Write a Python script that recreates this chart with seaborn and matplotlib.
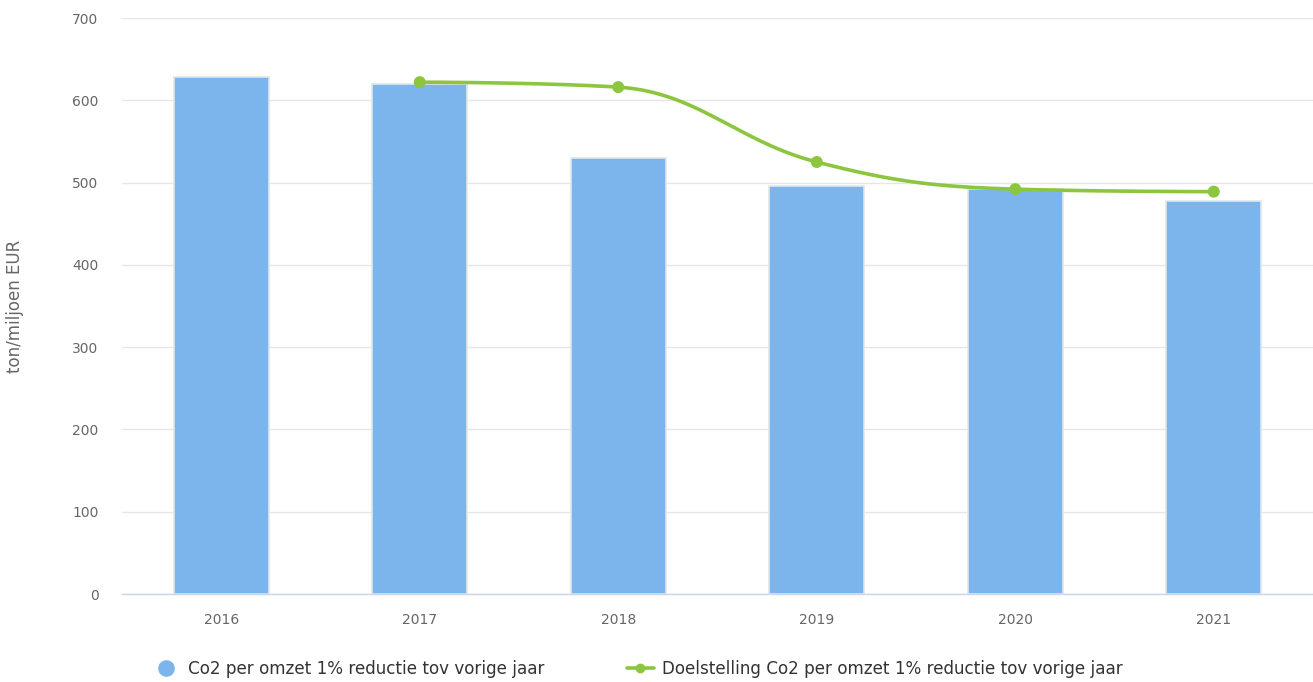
import numpy as np
import pandas as pd
import matplotlib
matplotlib.use("Agg")
import matplotlib.pyplot as plt
import seaborn as sns
from matplotlib.lines import Line2D

years = ["2016", "2017", "2018", "2019", "2020", "2021"]
co2_values = [628, 620, 530, 496, 492, 478]
target_years = ["2017", "2018", "2019", "2020", "2021"]
target_values = [622, 616, 525, 492, 489]

bar_label = "Co2 per omzet 1% reductie tov vorige jaar"
line_label = "Doelstelling Co2 per omzet 1% reductie tov vorige jaar"
y_label = "ton/miljoen EUR"
y_ticks = [0, 100, 200, 300, 400, 500, 600, 700]

BAR_COLOR = "#7cb5ec"
LINE_COLOR = "#8cc63e"
TEXT_COLOR = "#666666"

sns.set_theme(style="white")
plt.rcParams["font.family"] = ["DejaVu Sans"]

fig = plt.figure(figsize=(13.13, 6.82), dpi=100)
ax = fig.add_axes([122 / 1313, 88 / 682, 1 - 122 / 1313, (594 - 18) / 682])

df = pd.DataFrame({"year": years, "value": co2_values})
sns.barplot(data=df, x="year", y="value", color=BAR_COLOR, width=0.48,
            saturation=1, ax=ax, edgecolor="#e3e6ea", linewidth=1.2, zorder=2)


def spline_curve(x, y, smoothing=1.5, n=60):
    """Bezier spline through the points (Highcharts-style control points)."""
    x = np.asarray(x, float)
    y = np.asarray(y, float)
    k = len(x)
    lc = [(x[i], y[i]) for i in range(k)]
    rc = [(x[i], y[i]) for i in range(k)]
    den = smoothing + 1
    for i in range(1, k - 1):
        lx = (smoothing * x[i] + x[i - 1]) / den
        ly = (smoothing * y[i] + y[i - 1]) / den
        rx = (smoothing * x[i] + x[i + 1]) / den
        ry = (smoothing * y[i] + y[i + 1]) / den
        corr = (ry - ly) * (rx - x[i]) / (rx - lx) + y[i] - ry
        ly += corr
        ry += corr
        if ly > y[i - 1] and ly > y[i]:
            ly = max(y[i - 1], y[i]); ry = 2 * y[i] - ly
        elif ly < y[i - 1] and ly < y[i]:
            ly = min(y[i - 1], y[i]); ry = 2 * y[i] - ly
        if ry > y[i + 1] and ry > y[i]:
            ry = max(y[i + 1], y[i]); ly = 2 * y[i] - ry
        elif ry < y[i + 1] and ry < y[i]:
            ry = min(y[i + 1], y[i]); ly = 2 * y[i] - ry
        lc[i] = (lx, ly)
        rc[i] = (rx, ry)
    xs, ys = [], []
    t = np.linspace(0, 1, n)
    for i in range(k - 1):
        p0 = np.array([x[i], y[i]])
        p1 = np.array(rc[i])
        p2 = np.array(lc[i + 1])
        p3 = np.array([x[i + 1], y[i + 1]])
        pts = ((1 - t)[:, None] ** 3 * p0 + 3 * ((1 - t) ** 2 * t)[:, None] * p1
               + 3 * ((1 - t) * t ** 2)[:, None] * p2 + (t ** 3)[:, None] * p3)
        xs.append(pts[:, 0])
        ys.append(pts[:, 1])
    return np.concatenate(xs), np.concatenate(ys)


tx = [years.index(y) for y in target_years]
cx, cy = spline_curve(tx, target_values)
ax.plot(cx, cy, color=LINE_COLOR, lw=2.6, zorder=4, solid_capstyle="round")
sns.scatterplot(x=tx, y=target_values, color=LINE_COLOR, s=75, edgecolor="none",
                zorder=5, ax=ax)

ax.set_xlim(-0.5, 5.5)
ax.set_ylim(0, 700)
ax.set_yticks(y_ticks)
ax.grid(axis="y", color="#e6e6e6", lw=1, zorder=0)
ax.set_axisbelow(True)
for s in ["top", "right", "left"]:
    ax.spines[s].set_visible(False)
ax.spines["bottom"].set_color("#ccd6eb")
ax.spines["bottom"].set_linewidth(1)
ax.tick_params(axis="both", length=0, colors=TEXT_COLOR, labelsize=10)
ax.tick_params(axis="y", pad=17)
ax.tick_params(axis="x", pad=14)
ax.set_xlabel("")
ax.set_ylabel(y_label, color=TEXT_COLOR, fontsize=12)
ax.yaxis.set_label_coords(-0.082, 0.5)

handles = [
    Line2D([], [], marker="o", color="none", markerfacecolor=BAR_COLOR,
           markeredgecolor="none", markersize=12),
    Line2D([], [], marker="o", color=LINE_COLOR, lw=2.6, markersize=7,
           markeredgecolor="none"),
]
fig.legend(handles, [bar_label, line_label], loc="center",
           bbox_to_anchor=(638 / 1313, 1 - 669 / 682), ncol=2, frameon=False,
           fontsize=12.1, labelcolor="#333333", columnspacing=4.9,
           handlelength=1.6, handletextpad=0.5)

fig.savefig("out.png", dpi=100)
